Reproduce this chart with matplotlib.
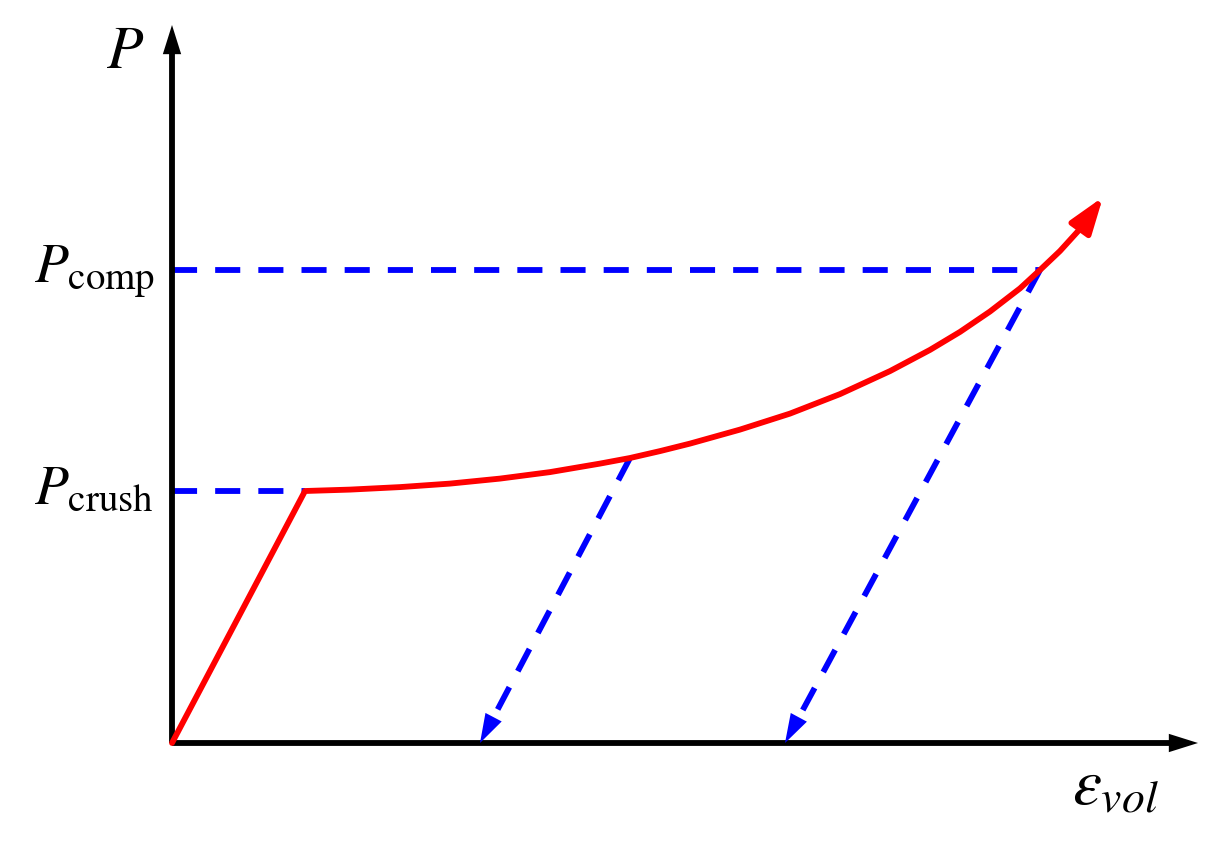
import matplotlib.pyplot as plt
import numpy as np

# crush curve (volumetric strain, pressure), arbitrary units
strain = [0, 133, 178, 228, 278, 328, 378, 428, 458, 488, 518, 568, 618, 668,
          718, 758, 788, 818, 848, 868, 888, 908, 931]
pressure = [0, 252, 253.4, 255.9, 259.4, 264.4, 270.9, 279.4, 285, 291.9, 299.4,
            313.4, 329.4, 348.9, 371.9, 393.1, 411.1, 431.5, 454.6, 473, 492, 514, 546]

p_crush = 252
eps_crush = 133
p_comp = 473
eps_comp = 868

# unloading paths: (start strain, start pressure) -> (end strain, 0)
unload_start = [(458, 285), (868, 473)]
unload_end = [308, 613]

axis_x_max = 1026
axis_y_max = 718

plt.rcParams['mathtext.fontset'] = 'stix'
plt.rcParams['font.family'] = 'STIXGeneral'

fig = plt.figure(figsize=(12.27, 8.47), dpi=100)
ax = fig.add_axes([0, 0, 1, 1])
ax.set_xlim(-172, 1055)
ax.set_ylim(-104, 743)
ax.axis('off')

LW = 4.2


def head(x0, y0, x1, y1, color, lw=0.0, scale=20, hl=1.05, hw=0.33):
    ax.annotate('', xy=(x1, y1), xytext=(x0, y0),
                arrowprops=dict(arrowstyle=f'-|>,head_length={hl},head_width={hw}',
                                color=color, lw=lw, shrinkA=0, shrinkB=0,
                                mutation_scale=scale))


# axes with arrows
ax.plot([0, axis_x_max - 25], [0, 0], color='black', lw=LW, solid_capstyle='butt', zorder=3)
ax.plot([0, 0], [0, axis_y_max - 25], color='black', lw=LW, solid_capstyle='butt', zorder=3)
head(axis_x_max - 30, 0, axis_x_max, 0, 'black')
head(0, axis_y_max - 30, 0, axis_y_max, 'black')

dash = (0, (4.3, 3.1))

# dashed guide lines
ax.plot([0, eps_crush], [p_crush, p_crush], color='blue', lw=LW, linestyle=dash, zorder=2)
ax.plot([0, eps_comp], [p_comp, p_comp], color='blue', lw=LW, linestyle=dash, zorder=2)

# unloading lines
for (xs, ys), xe in zip(unload_start, unload_end):
    d = np.hypot(xs - xe, ys)
    ux, uy = (xs - xe) / d, ys / d
    ax.plot([xs, xe + ux * 28], [ys, uy * 28], color='blue', lw=LW, linestyle=dash, zorder=2)
    head(xe + ux * 30, uy * 30, xe, 0, 'blue')

# red crush curve
ax.plot(strain[:-1], pressure[:-1], color='red', lw=LW,
        solid_capstyle='round', solid_joinstyle='round', zorder=4)
head(strain[-2], pressure[-2], strain[-1], pressure[-1], 'red', lw=LW,
     scale=20, hl=1.1, hw=0.38)

# labels
ax.text(-47, 675, r'$P$', fontsize=43, ha='center', va='baseline')
ax.text(-17, 461, r'$P_{\mathrm{comp}}$', fontsize=40, ha='right', va='baseline')
ax.text(-18, 240, r'$P_{\mathrm{crush}}$', fontsize=40, ha='right', va='baseline')
ax.text(900, -62, r'$\varepsilon_{vol}$', fontsize=47, ha='left', va='baseline')

fig.savefig('out.png', dpi=100)
